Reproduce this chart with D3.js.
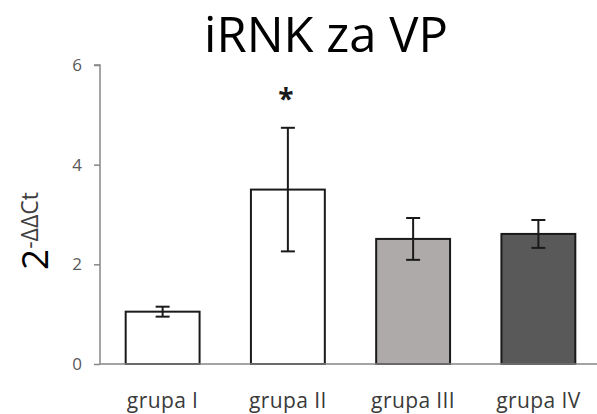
<!DOCTYPE html>
<html>
<head>
<meta charset="utf-8">
<script src="https://cdn.jsdelivr.net/npm/d3@7"></script>
<style>
body{margin:0;background:#fff;}
text{font-family:"Open Sans",sans-serif;}
</style>
</head>
<body>
<div id="chart"></div>
<script>
var categories=["grupa I","grupa II","grupa III","grupa IV"];
var values=[1.05,3.5,2.51,2.61];
var errors=[0.1,1.24,0.42,0.28];
var fills=["#ffffff","#ffffff","#aeaaaa","#595959"];
var yTicks=[0,2,4,6];
var stars=["","*","",""];

var width=597,height=414;
var svg=d3.select("#chart").append("svg")
    .attr("width",width).attr("height",height);

var x=d3.scaleBand().domain(categories).range([100,601]).paddingInner(0.41).paddingOuter(0.205);
var y=d3.scaleLinear().domain([0,6]).range([364,65]);

// title
svg.append("text").attr("x",326).attr("y",52).attr("text-anchor","middle")
    .style("font-size","49px").style("fill","#000").text("iRNK za VP");

// y axis
var yAxis=d3.axisLeft(y).tickValues(yTicks).tickFormat(d3.format("d")).tickSize(6).tickPadding(12);
var gy=svg.append("g").attr("transform","translate(100,0)").call(yAxis);
gy.select(".domain").attr("stroke","#868686").attr("stroke-width",1.5).attr("d","M-6,"+y(6)+"H0V"+y(0));
gy.selectAll(".tick line").attr("stroke","#868686").attr("stroke-width",1.5);
gy.selectAll(".tick text").attr("font-size",17).style("font-size","17px").style("fill","#595959").style("font-family","Open Sans");

// bars
svg.selectAll("rect.bar").data(categories).enter().append("rect")
    .attr("class","bar")
    .attr("x",function(d){return x(d)})
    .attr("y",function(d,i){return y(values[i])})
    .attr("width",x.bandwidth())
    .attr("height",function(d,i){return y(0)-y(values[i])})
    .attr("fill",function(d,i){return fills[i]})
    .attr("stroke","#1a1a1a").attr("stroke-width",2);

// x baseline
svg.append("line").attr("x1",100).attr("x2",597).attr("y1",y(0)).attr("y2",y(0))
    .attr("stroke","#868686").attr("stroke-width",1.5);

// error bars
var eb=svg.selectAll("g.err").data(categories).enter().append("g").attr("class","err")
    .attr("transform",function(d){return "translate("+(x(d)+x.bandwidth()/2)+",0)"});
eb.append("line").attr("y1",function(d,i){return y(values[i]+errors[i])})
    .attr("y2",function(d,i){return y(values[i]-errors[i])});
eb.append("line").attr("x1",-7).attr("x2",7)
    .attr("y1",function(d,i){return y(values[i]+errors[i])})
    .attr("y2",function(d,i){return y(values[i]+errors[i])});
eb.append("line").attr("x1",-7).attr("x2",7)
    .attr("y1",function(d,i){return y(values[i]-errors[i])})
    .attr("y2",function(d,i){return y(values[i]-errors[i])});
eb.selectAll("line").attr("stroke","#1a1a1a").attr("stroke-width",2);

// significance
eb.append("text").attr("x",-2).attr("y",function(d,i){return y(values[i]+errors[i])-19})
    .attr("text-anchor","middle").style("font-size","28px").style("font-weight","bold")
    .style("fill","#1a1a1a").text(function(d,i){return stars[i]});

// category labels
svg.selectAll("text.cat").data(categories).enter().append("text").attr("class","cat")
    .attr("x",function(d){return x(d)+x.bandwidth()/2}).attr("y",408)
    .attr("text-anchor","middle").style("font-size","21px").style("letter-spacing","0.4px")
    .style("fill","#3a3a3a")
    .text(function(d){return d});

// y label
var yl=svg.append("text").attr("transform","translate(48,270) rotate(-90)")
    .attr("text-anchor","start").style("fill","#000");
yl.append("tspan").style("font-size","37px").style("font-weight","500").text("2");
yl.append("tspan").attr("dy",-10).style("font-size","23px").style("fill","#404040").text("-ΔΔCt");
</script>
</body>
</html>
